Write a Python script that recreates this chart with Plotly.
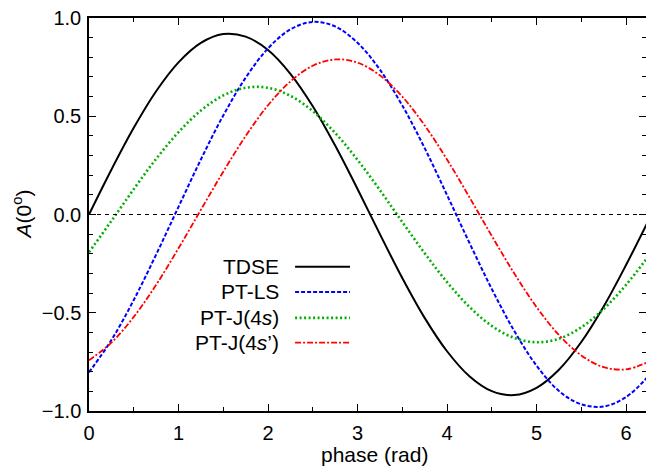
import plotly.graph_objects as go

phase = [0.0, 0.25, 0.5, 0.75, 1.0, 1.25, 1.5, 1.75, 2.0, 2.25, 2.5, 2.75, 3.0,
         3.25, 3.5, 3.75, 4.0, 4.25, 4.5, 4.75, 5.0, 5.25, 5.5, 5.75, 6.0, 6.25]

tdse = [0.0, 0.228, 0.441, 0.627, 0.774, 0.873, 0.918, 0.905, 0.837, 0.716, 0.551,
        0.351, 0.130, -0.100, -0.323, -0.526, -0.696, -0.823, -0.899, -0.919,
        -0.882, -0.790, -0.649, -0.468, -0.257, -0.031]

pt_ls = [-0.803, -0.639, -0.435, -0.204, 0.039, 0.280, 0.504, 0.696, 0.845, 0.942,
         0.980, 0.957, 0.874, 0.737, 0.555, 0.338, 0.099, -0.144, -0.379, -0.592,
         -0.769, -0.898, -0.966, -0.977, -0.929, -0.823]

pt_j4s = [-0.192, -0.033, 0.129, 0.283, 0.419, 0.529, 0.606, 0.645, 0.645, 0.604,
          0.526, 0.415, 0.278, 0.124, -0.038, -0.197, -0.344, -0.470, -0.567,
          -0.628, -0.650, -0.632, -0.574, -0.481, -0.358, -0.213]

pt_j4sp = [-0.742, -0.652, -0.521, -0.358, -0.172, 0.024, 0.218, 0.399, 0.556, 0.677,
           0.757, 0.789, 0.773, 0.708, 0.600, 0.454, 0.280, 0.088, -0.109, -0.299,
           -0.471, -0.613, -0.717, -0.777, -0.788, -0.750]

names = ["TDSE", "PT-LS", "PT-J(4<i>s</i>)", "PT-J(4<i>s</i>’)"]
series = [tdse, pt_ls, pt_j4s, pt_j4sp]
colors = ["#000000", "#0000ff", "#00b000", "#ff0000"]
dashes = ["solid", "4px,2px", "2px,2.5px", "6px,2px,2px,2px"]
widths = [2, 2, 2.6, 1.8]

FONT = "Liberation Sans, Arial, sans-serif"

fig = go.Figure()
for name, ys, c, d, w in zip(names, series, colors, dashes, widths):
    fig.add_trace(go.Scatter(x=phase, y=ys, mode="lines", name=name,
                             line=dict(color=c, dash=d, width=w, shape="spline"),
                             showlegend=False))

# zero reference line
fig.add_shape(type="line", xref="paper", yref="y", x0=0, x1=1, y0=0, y1=0,
              line=dict(color="black", width=1, dash="4px,4px"))

# gnuplot-style legend: text left, sample line right
leg_y = [0.367, 0.303, 0.237, 0.174]
for name, c, d, w, yy in zip(names, colors, dashes, widths, leg_y):
    fig.add_annotation(xref="paper", yref="paper", x=0.345, y=yy, text=name,
                       showarrow=False, xanchor="right", yanchor="middle",
                       font=dict(family=FONT, size=21, color="black"))
    fig.add_shape(type="line", xref="paper", yref="paper", x0=0.370, x1=0.4686,
                  y0=yy, y1=yy, line=dict(color=c, dash=d, width=w))

# axis titles
fig.add_annotation(xref="paper", yref="paper", x=0.5126, y=-0.111,
                   text="phase (rad)", showarrow=False, xanchor="center",
                   yanchor="middle", font=dict(family=FONT, size=21, color="black"))
fig.add_annotation(xref="paper", yref="paper", x=-0.1203, y=0.5,
                   text="<i>A</i>(0<sup>o</sup>)", showarrow=False, textangle=-90,
                   xanchor="center", yanchor="middle",
                   font=dict(family=FONT, size=21, color="black"))

fig.update_layout(
    width=646, height=471,
    margin=dict(l=89, r=0, t=18, b=60, autoexpand=False),
    plot_bgcolor="white", paper_bgcolor="white",
    font=dict(family=FONT, size=19, color="black"),
    xaxis=dict(range=[0, 6.223], dtick=1, tick0=0, ticks="inside", ticklen=7,
               tickwidth=1, tickcolor="black", showgrid=False, zeroline=False,
               showline=True, linecolor="black", linewidth=1.5, mirror="allticks",
               ticklabelstandoff=3, tickfont=dict(size=20),
               minor=dict(dtick=0.5, ticks="inside", ticklen=4, tickcolor="black")),
    yaxis=dict(range=[-1, 1], dtick=0.5, tick0=0, ticks="inside", ticklen=7,
               tickwidth=1, tickcolor="black", showgrid=False, zeroline=False,
               showline=True, linecolor="black", linewidth=1.5, mirror="allticks",
               tickformat=".1f", tickfont=dict(size=20), ticklabelstandoff=2,
               minor=dict(dtick=0.1, ticks="inside", ticklen=4, tickcolor="black")),
)

fig.write_html("out.html", config={"displayModeBar": False},
               post_script="document.body.style.margin='0px';document.body.style.overflow='hidden';")
